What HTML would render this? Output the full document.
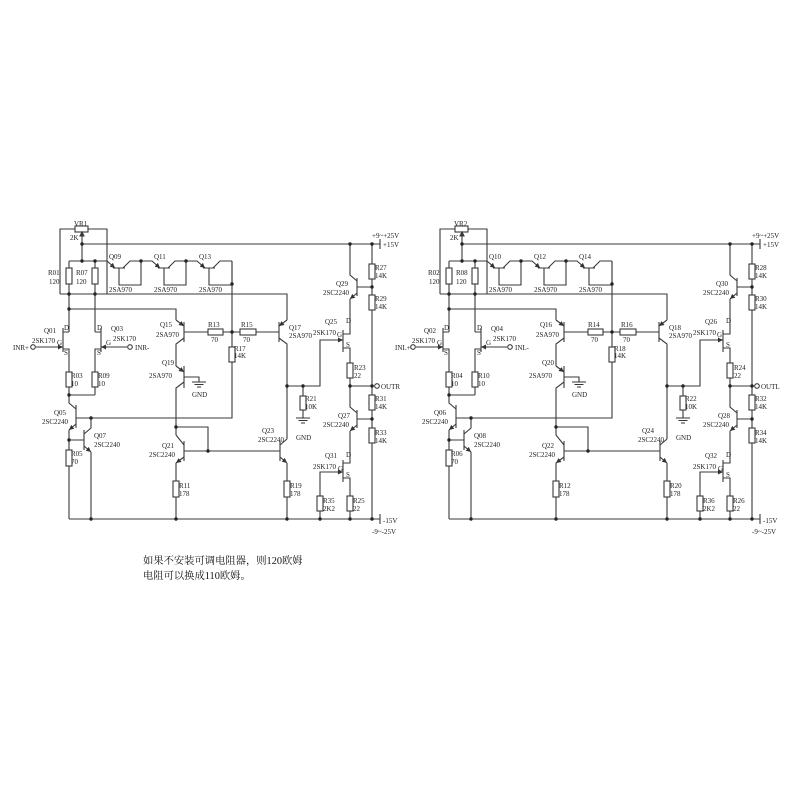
<!DOCTYPE html>
<html><head><meta charset="utf-8"><style>
html,body{margin:0;padding:0;background:#fff;}
svg{display:block;}
text{font-family:"Liberation Serif","Noto Serif CJK SC",serif;font-size:7px;fill:#222;}
.cn{font-size:10.3px;fill:#111;}
</style></head><body>
<svg width="800" height="800" viewBox="0 0 800 800" xmlns="http://www.w3.org/2000/svg">
<defs>
<marker id="a" markerWidth="5" markerHeight="5" refX="5" refY="2.5" orient="auto" markerUnits="userSpaceOnUse"><path d="M0,0L5,2.5L0,5z" fill="#333"/></marker>
<g id="gnd" stroke="#333" stroke-width="1" fill="none"><path d="M-7,0H7M-4.5,2.5H4.5M-2,5H2"/></g>
<g id="w" stroke="#3a3a3a" stroke-width="1.1" fill="none">
<path d="M60,294V229H75M88,229H107V294M82,233V261M69,261H107M82,244H380"/>
<rect x="75" y="226" width="13" height="6" fill="#fff"/>
<path d="M82,232l-2,4h4z" fill="#333"/>
<path d="M60,294H287V320"/>
<path d="M69,261V268M69,284V332M95,261V268M95,284V332M69,309H176V320"/>
<rect x="66" y="268" width="6" height="16" fill="#fff"/><rect x="92" y="268" width="6" height="16" fill="#fff"/>
<path d="M107,261L115,268" marker-end="url(#a)"/><path d="M113,268H125M123,268L130,261H141M119,268V285H141V261"/>
<path d="M141,261H152L160,268" marker-end="url(#a)"/><path d="M158,268H170M168,268L175,261H186M164,268V285H186V261"/>
<path d="M186,261H197L205,268" marker-end="url(#a)"/><path d="M203,268H215M213,268L220,261H232M209,268V285H232V261"/>
<path d="M184,322V342M176,320L184,326" marker-end="url(#a)"/><path d="M184,338L176,344V366"/>
<path d="M184,332H279"/>
<rect x="208" y="329" width="15" height="6" fill="#fff"/><rect x="240" y="329" width="16" height="6" fill="#fff"/>
<path d="M176,366L184,372" marker-end="url(#a)"/><path d="M184,366V388M184,382L176,388V435M184,377H199V382"/>
<path d="M232,261V347M232,362V418H76"/><rect x="229" y="347" width="6" height="15" fill="#fff"/>
<path d="M184,441V461M176,435L184,445M176,427H208V451M184,451H280"/>
<path d="M184,457L176,463" marker-end="url(#a)"/><path d="M176,463V481M176,497V519"/><rect x="173" y="481" width="6" height="16" fill="#fff"/>
<path d="M279,322V342M287,320L279,326" marker-end="url(#a)"/><path d="M279,338L287,344V439"/>
<path d="M280,441V461M280,445L287,439"/><path d="M280,457L287,463" marker-end="url(#a)"/><path d="M287,463V481M287,497V519"/><rect x="284" y="481" width="6" height="16" fill="#fff"/>
<path d="M287,386H320V340H337"/><path d="M337,340H343" marker-end="url(#a)"/>
<path d="M303,386V396M303,410V418"/><rect x="300" y="396" width="6" height="14" fill="#fff"/>
<path d="M343,330V352M343,334H350V299M343,348H350V363M350,378V386H374"/><rect x="347" y="363" width="6" height="15" fill="#fff"/>
<path d="M357,278V296M357,281L350,275V244M357,287H372"/><path d="M357,293L350,299" marker-end="url(#a)"/>
<path d="M372,244V264M372,279V295M372,310V395M372,410V428M372,443V519"/>
<rect x="369" y="264" width="6" height="15" fill="#fff"/><rect x="369" y="295" width="6" height="15" fill="#fff"/>
<rect x="369" y="395" width="6" height="15" fill="#fff"/><rect x="369" y="428" width="6" height="15" fill="#fff"/>
<circle cx="377" cy="386" r="2.3" fill="#fff"/>
<path d="M357,410V428M357,413L350,407V386M357,419H372"/><path d="M357,425L350,431" marker-end="url(#a)"/>
<path d="M350,431V463H343M343,460V482M343,478H350V496M350,511V519"/><rect x="347" y="496" width="6" height="15" fill="#fff"/>
<path d="M320,519V511M320,496V472H337"/><path d="M337,472H343" marker-end="url(#a)"/><rect x="317" y="496" width="6" height="15" fill="#fff"/>
<path d="M69,519H380M380,239V249M380,514V524"/>
<path d="M63,328V352M63,332H69M63,349H69V372M69,387V395H95M36,347H57"/><path d="M57,347H63" marker-end="url(#a)"/>
<circle cx="33" cy="347" r="2.3" fill="#fff"/><rect x="66" y="372" width="6" height="15" fill="#fff"/>
<path d="M101,328V352M101,332H95M101,349H95V372M95,387V395M127,347H107"/><path d="M107,347H101" marker-end="url(#a)"/>
<circle cx="130" cy="347" r="2.3" fill="#fff"/><rect x="92" y="372" width="6" height="15" fill="#fff"/>
<path d="M76,405V428M76,409L69,403V395"/><path d="M76,424L69,430" marker-end="url(#a)"/><path d="M69,430V450M69,466V519"/><rect x="66" y="450" width="6" height="16" fill="#fff"/>
<path d="M69,440H84M84,430V450M84,434L91,428V418"/><path d="M84,446L91,452" marker-end="url(#a)"/><path d="M91,452V519"/>
</g>
<g id="d" fill="#222">
<circle cx="82" cy="244" r="1.7"/><circle cx="82" cy="261" r="1.7"/><circle cx="95" cy="261" r="1.7"/><circle cx="69" cy="294" r="1.7"/><circle cx="95" cy="294" r="1.7"/><circle cx="69" cy="309" r="1.7"/>
<circle cx="141" cy="261" r="1.7"/><circle cx="186" cy="261" r="1.7"/><circle cx="232" cy="284" r="1.7"/><circle cx="232" cy="332" r="1.7"/>
<circle cx="350" cy="244" r="1.7"/><circle cx="372" cy="244" r="1.7"/><circle cx="372" cy="287" r="1.7"/><circle cx="372" cy="386" r="1.7"/><circle cx="350" cy="386" r="1.7"/><circle cx="372" cy="419" r="1.7"/>
<circle cx="287" cy="386" r="1.7"/><circle cx="303" cy="386" r="1.7"/><circle cx="176" cy="427" r="1.7"/><circle cx="208" cy="451" r="1.7"/>
<circle cx="69" cy="395" r="1.7"/><circle cx="91" cy="418" r="1.7"/><circle cx="69" cy="440" r="1.7"/>
<circle cx="91" cy="519" r="1.7"/><circle cx="176" cy="519" r="1.7"/><circle cx="287" cy="519" r="1.7"/><circle cx="320" cy="519" r="1.7"/><circle cx="350" cy="519" r="1.7"/><circle cx="372" cy="519" r="1.7"/>
</g>
</defs>
<use href="#w"/><use href="#d"/>
<use href="#gnd" x="199" y="382"/><use href="#gnd" x="303" y="418"/>
<use href="#w" x="380"/><use href="#d" x="380"/>
<use href="#gnd" x="579" y="382"/><use href="#gnd" x="683" y="418"/>

<g>
<text x="74" y="226">VR1</text><text x="70" y="240">2K</text>
<text x="48" y="275">R01</text><text x="49" y="284">120</text><text x="76" y="275">R07</text><text x="76" y="284">120</text>
<text x="109" y="259">Q09</text><text x="154" y="259">Q11</text><text x="199" y="259">Q13</text>
<text x="109" y="292">2SA970</text><text x="154" y="292">2SA970</text><text x="199" y="292">2SA970</text>
<text x="160" y="327">Q15</text><text x="156" y="337">2SA970</text>
<text x="208" y="327">R13</text><text x="211" y="342">70</text><text x="241" y="327">R15</text><text x="243" y="342">70</text>
<text x="234" y="351">R17</text><text x="234" y="358">14K</text>
<text x="289" y="330">Q17</text><text x="289" y="338">2SA970</text>
<text x="162" y="365">Q19</text><text x="149" y="378">2SA970</text><text x="192" y="397">GND</text>
<text x="44" y="333">Q01</text><text x="32" y="343">2SK170</text><text x="57" y="345">G</text><text x="64" y="330">D</text><text x="64" y="355">S</text>
<text x="13" y="350">INR+</text>
<text x="111" y="331">Q03</text><text x="113" y="341">2SK170</text><text x="135" y="350">INR-</text><text x="97" y="330">D</text><text x="97" y="355">S</text><text x="106" y="345">G</text>
<text x="71" y="378">R03</text><text x="71" y="386">10</text><text x="98" y="378">R09</text><text x="98" y="386">10</text>
<text x="54" y="415">Q05</text><text x="42" y="424">2SC2240</text><text x="94" y="438">Q07</text><text x="94" y="447">2SC2240</text>
<text x="71" y="456">R05</text><text x="71" y="464">70</text>
<text x="162" y="448">Q21</text><text x="149" y="457">2SC2240</text><text x="179" y="488">R11</text><text x="179" y="496">178</text>
<text x="262" y="433">Q23</text><text x="258" y="442">2SC2240</text><text x="290" y="488">R19</text><text x="290" y="496">178</text>
<text x="305" y="401">R21</text><text x="305" y="409">10K</text><text x="296" y="440">GND</text>
<text x="325" y="324">Q25</text><text x="313" y="335">2SK170</text><text x="346" y="323">D</text><text x="337" y="337">G</text><text x="346" y="347">S</text>
<text x="336" y="286">Q29</text><text x="323" y="295">2SC2240</text>
<text x="375" y="270">R27</text><text x="375" y="278">14K</text><text x="375" y="301">R29</text><text x="375" y="309">14K</text>
<text x="354" y="370">R23</text><text x="354" y="378">22</text><text x="381" y="389">OUTR</text>
<text x="375" y="401">R31</text><text x="375" y="409">14K</text><text x="375" y="435">R33</text><text x="375" y="443">14K</text>
<text x="338" y="418">Q27</text><text x="323" y="427">2SC2240</text>
<text x="325" y="458">Q31</text><text x="313" y="469">2SK170</text><text x="346" y="457">D</text><text x="338" y="471">G</text><text x="346" y="477">S</text>
<text x="323" y="503">R35</text><text x="323" y="511">2K2</text><text x="353" y="503">R25</text><text x="353" y="511">22</text>
<text x="372" y="238">+9~+25V</text><text x="383" y="247">+15V</text><text x="383" y="523">-15V</text><text x="372" y="534">-9~-25V</text>
</g>
<g transform="translate(380,0)">
<text x="74" y="226">VR2</text><text x="70" y="240">2K</text>
<text x="48" y="275">R02</text><text x="49" y="284">120</text><text x="76" y="275">R08</text><text x="76" y="284">120</text>
<text x="109" y="259">Q10</text><text x="154" y="259">Q12</text><text x="199" y="259">Q14</text>
<text x="109" y="292">2SA970</text><text x="154" y="292">2SA970</text><text x="199" y="292">2SA970</text>
<text x="160" y="327">Q16</text><text x="156" y="337">2SA970</text>
<text x="208" y="327">R14</text><text x="211" y="342">70</text><text x="241" y="327">R16</text><text x="243" y="342">70</text>
<text x="234" y="351">R18</text><text x="234" y="358">14K</text>
<text x="289" y="330">Q18</text><text x="289" y="338">2SA970</text>
<text x="162" y="365">Q20</text><text x="149" y="378">2SA970</text><text x="192" y="397">GND</text>
<text x="44" y="333">Q02</text><text x="32" y="343">2SK170</text><text x="57" y="345">G</text><text x="64" y="330">D</text><text x="64" y="355">S</text>
<text x="15" y="350">INL+</text>
<text x="111" y="331">Q04</text><text x="113" y="341">2SK170</text><text x="135" y="350">INL-</text><text x="97" y="330">D</text><text x="97" y="355">S</text><text x="106" y="345">G</text>
<text x="71" y="378">R04</text><text x="71" y="386">10</text><text x="98" y="378">R10</text><text x="98" y="386">10</text>
<text x="54" y="415">Q06</text><text x="42" y="424">2SC2240</text><text x="94" y="438">Q08</text><text x="94" y="447">2SC2240</text>
<text x="71" y="456">R06</text><text x="71" y="464">70</text>
<text x="162" y="448">Q22</text><text x="149" y="457">2SC2240</text><text x="179" y="488">R12</text><text x="179" y="496">178</text>
<text x="262" y="433">Q24</text><text x="258" y="442">2SC2240</text><text x="290" y="488">R20</text><text x="290" y="496">178</text>
<text x="305" y="401">R22</text><text x="305" y="409">10K</text><text x="296" y="440">GND</text>
<text x="325" y="324">Q26</text><text x="313" y="335">2SK170</text><text x="346" y="323">D</text><text x="337" y="337">G</text><text x="346" y="347">S</text>
<text x="336" y="286">Q30</text><text x="323" y="295">2SC2240</text>
<text x="375" y="270">R28</text><text x="375" y="278">14K</text><text x="375" y="301">R30</text><text x="375" y="309">14K</text>
<text x="354" y="370">R24</text><text x="354" y="378">22</text><text x="381" y="389">OUTL</text>
<text x="375" y="401">R32</text><text x="375" y="409">14K</text><text x="375" y="435">R34</text><text x="375" y="443">14K</text>
<text x="338" y="418">Q28</text><text x="323" y="427">2SC2240</text>
<text x="325" y="458">Q32</text><text x="313" y="469">2SK170</text><text x="346" y="457">D</text><text x="338" y="471">G</text><text x="346" y="477">S</text>
<text x="323" y="503">R36</text><text x="323" y="511">2K2</text><text x="353" y="503">R26</text><text x="353" y="511">22</text>
<text x="372" y="238">+9~+25V</text><text x="383" y="247">+15V</text><text x="383" y="523">-15V</text><text x="372" y="534">-9~-25V</text>
</g>
<text class="cn" x="143" y="564">如果不安装可调电阻器，则120欧姆</text>
<text class="cn" x="143" y="579">电阻可以换成110欧姆。</text>
</svg>
</body></html>
